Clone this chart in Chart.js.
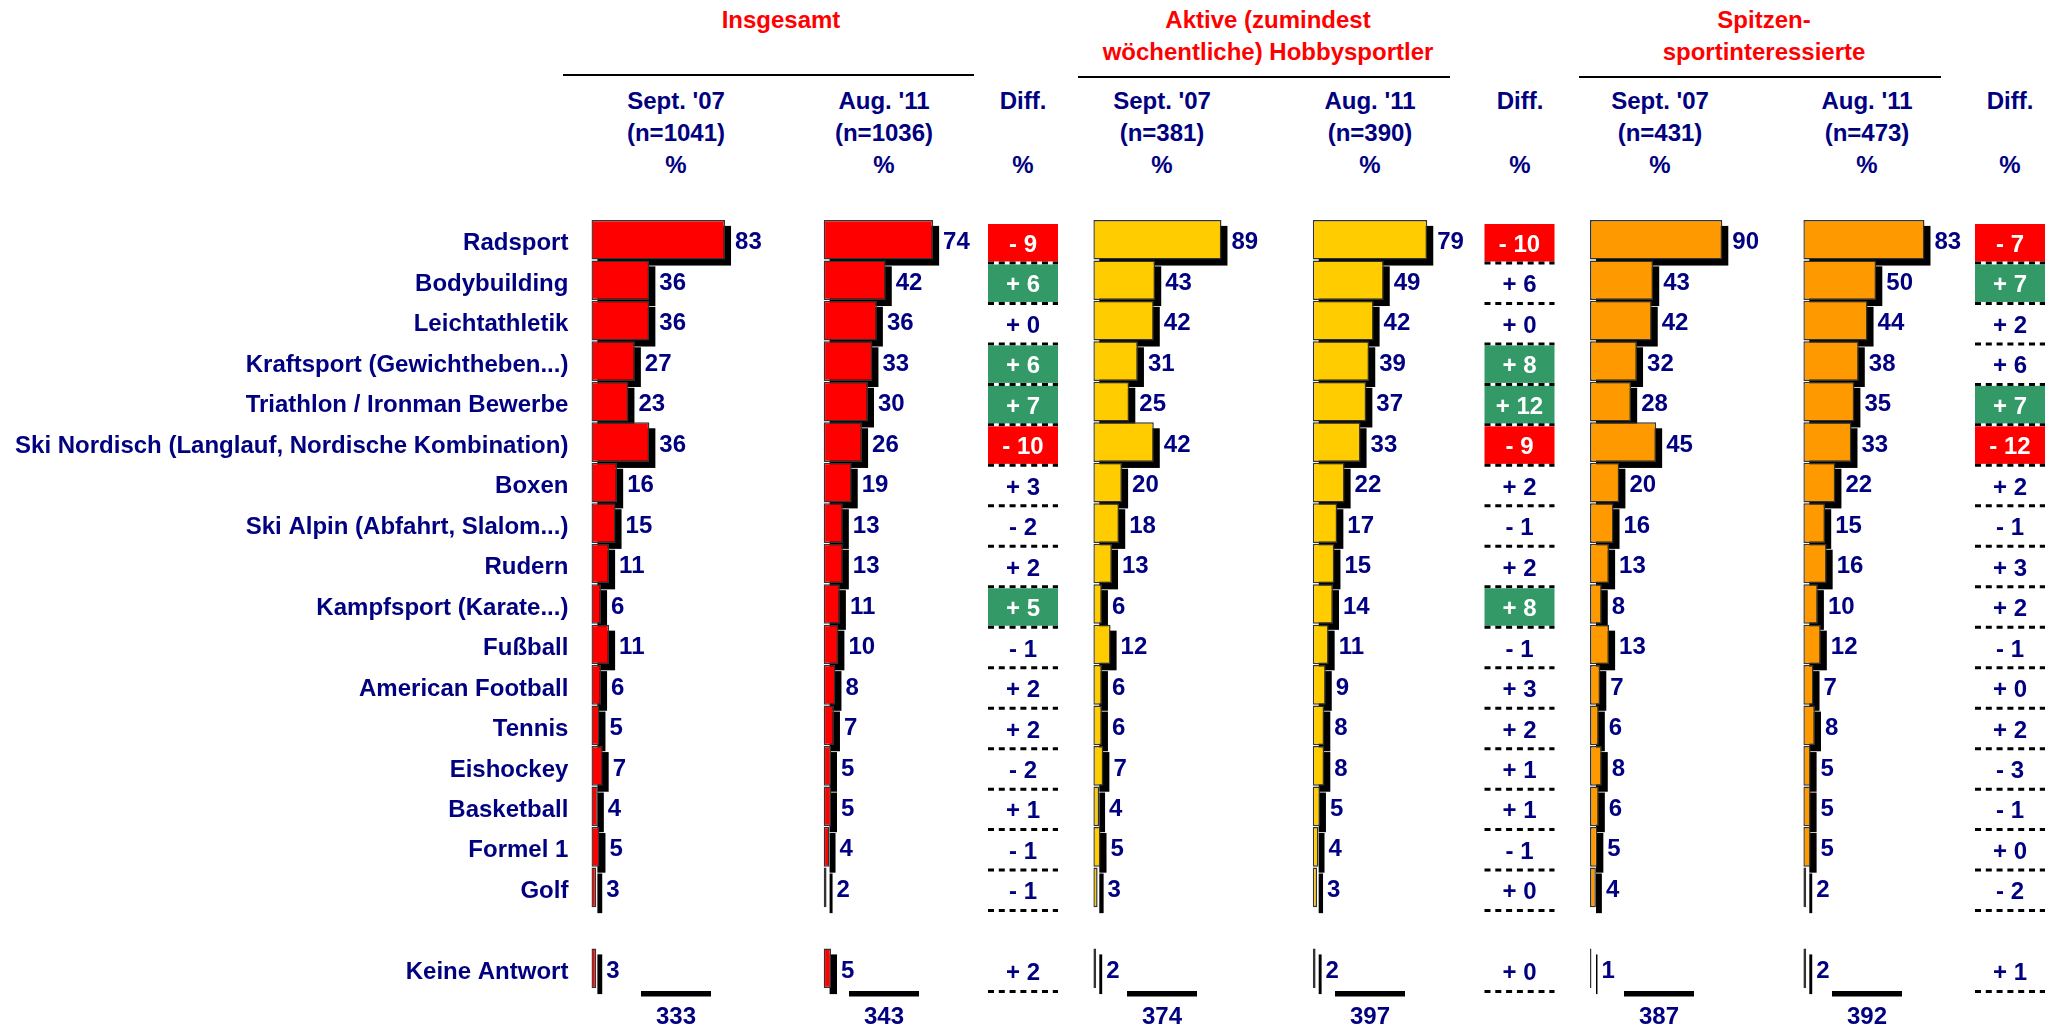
<!DOCTYPE html>
<html>
<head>
<meta charset="utf-8">
<script src="https://cdn.jsdelivr.net/npm/chart.js@4.4.1/dist/chart.umd.min.js"></script>
<style>
body { margin:0; background:#fff; width:2060px; height:1029px; overflow:hidden; position:relative;
       font-family:"Liberation Sans", Arial, sans-serif; font-weight:bold; }
.layer { position:absolute; left:0; top:0; width:2060px; height:1029px; }
.txt { position:absolute; transform:translate(-50%,-50%); white-space:nowrap; font-size:24px;
       line-height:32px; text-align:center; color:#000080; }
.red { color:#ff0000; }
.rule { position:absolute; height:2.3px; background:#000; }
</style>
</head>
<body>
<script>
// categories (slot 17 is the empty gap before "Keine Antwort")
const sports = ['Radsport', 'Bodybuilding', 'Leichtathletik', 'Kraftsport (Gewichtheben...)',
  'Triathlon / Ironman Bewerbe', 'Ski Nordisch (Langlauf, Nordische Kombination)', 'Boxen',
  'Ski Alpin (Abfahrt, Slalom...)', 'Rudern', 'Kampfsport (Karate...)', 'Fußball',
  'American Football', 'Tennis', 'Eishockey', 'Basketball', 'Formel 1', 'Golf', '', 'Keine Antwort'];

const insgSept07 = [83, 36, 36, 27, 23, 36, 16, 15, 11, 6, 11, 6, 5, 7, 4, 5, 3, null, 3];
const insgAug11  = [74, 42, 36, 33, 30, 26, 19, 13, 13, 11, 10, 8, 7, 5, 5, 4, 2, null, 5];
const insgDiff   = [-9, 6, 0, 6, 7, -10, 3, -2, 2, 5, -1, 2, 2, -2, 1, -1, -1, null, 2];

const aktivSept07 = [89, 43, 42, 31, 25, 42, 20, 18, 13, 6, 12, 6, 6, 7, 4, 5, 3, null, 2];
const aktivAug11  = [79, 49, 42, 39, 37, 33, 22, 17, 15, 14, 11, 9, 8, 8, 5, 4, 3, null, 2];
const aktivDiff   = [-10, 6, 0, 8, 12, -9, 2, -1, 2, 8, -1, 3, 2, 1, 1, -1, 0, null, 0];

const spitzeSept07 = [90, 43, 42, 32, 28, 45, 20, 16, 13, 8, 13, 7, 6, 8, 6, 5, 4, null, 1];
const spitzeAug11  = [83, 50, 44, 38, 35, 33, 22, 15, 16, 10, 12, 7, 8, 5, 5, 5, 2, null, 2];
const spitzeDiff   = [-7, 7, 2, 6, 7, -12, 2, -1, 3, 2, -1, 0, 2, -3, -1, 0, -2, null, 1];

// marked as significant from this absolute difference on
const sigLimit = [5, 7, 7];

const groupTitles = [['Insgesamt'], ['Aktive (zumindest', 'wöchentliche) Hobbysportler'], ['Spitzen-', 'sportinteressierte']];
const colHeads = [
  ["Sept. '07", '(n=1041)', '%'], ["Aug. '11", '(n=1036)', '%'], ['Diff.', '', '%'],
  ["Sept. '07", '(n=381)', '%'], ["Aug. '11", '(n=390)', '%'], ['Diff.', '', '%'],
  ["Sept. '07", '(n=431)', '%'], ["Aug. '11", '(n=473)', '%'], ['Diff.', '', '%']
];

const NAVY = '#000080';
const RED = '#ff0000';
const GREEN = '#339966';
const FONT = '"Liberation Sans", Arial, sans-serif';
Chart.defaults.font.family = FONT;

// header text
function addText(txt, x, y, cls) {
  const d = document.createElement('div');
  d.className = 'txt' + (cls ? ' ' + cls : '');
  d.innerHTML = txt;
  d.style.left = x + 'px';
  d.style.top = y + 'px';
  document.body.appendChild(d);
}
function addRule(x1, x2, y) {
  const d = document.createElement('div');
  d.className = 'rule';
  d.style.left = x1 + 'px';
  d.style.width = (x2 - x1) + 'px';
  d.style.top = y + 'px';
  document.body.appendChild(d);
}

const titleX = [781, 1268, 1764];
groupTitles.forEach((t, g) => {
  t.forEach((line, k) => addText(line, titleX[g], 20 + k * 31.5, 'red'));
});
addRule(563, 974, 74);
addRule(1078, 1450, 75.5);
addRule(1579, 1941, 75.5);

const colX = [676, 884, 1023, 1162, 1370, 1520, 1660, 1867, 2010];
colHeads.forEach((h, i) => {
  h.forEach((line, k) => { if (line) addText(line, colX[i], 101 + k * 32); });
});

// bar panels
const panels = [
  { data: insgSept07, color: '#ff0000', left: 591.4, px: 1.61, center: 676, axis: true },
  { data: insgAug11, color: '#ff0000', left: 823.6, px: 1.48, center: 884, diff: insgDiff, diffX: 988, sig: sigLimit[0] },
  { data: aktivSept07, color: '#ffcc00', left: 1093.3, px: 1.44, center: 1162 },
  { data: aktivAug11, color: '#ffcc00', left: 1312.7, px: 1.45, center: 1370, diff: aktivDiff, diffX: 1484.5, sig: sigLimit[1] },
  { data: spitzeSept07, color: '#ff9900', left: 1590, px: 1.47, center: 1659 },
  { data: spitzeAug11, color: '#ff9900', left: 1803.3, px: 1.46, center: 1867, diff: spitzeDiff, diffX: 1975, sig: sigLimit[2] }
];

const shadowPlugin = {
  id: 'shadow',
  beforeDatasetsDraw(chart) {
    const ctx = chart.ctx;
    const vals = chart.data.datasets[0].data;
    ctx.save();
    ctx.fillStyle = '#000';
    chart.getDatasetMeta(0).data.forEach((bar, i) => {
      if (vals[i] == null) return;
      const { x, y, base, height } = bar.getProps(['x', 'y', 'base', 'height'], true);
      ctx.fillRect(base + 6, y - height / 2 + 6, x - base, height);
    });
    ctx.restore();
  }
};

const valuePlugin = {
  id: 'values',
  afterDatasetsDraw(chart) {
    const ctx = chart.ctx;
    const vals = chart.data.datasets[0].data;
    ctx.save();
    ctx.fillStyle = NAVY;
    ctx.font = 'bold 24px ' + FONT;
    ctx.textBaseline = 'middle';
    ctx.textAlign = 'left';
    chart.getDatasetMeta(0).data.forEach((bar, i) => {
      if (vals[i] == null) return;
      const { x, y } = bar.getProps(['x', 'y'], true);
      ctx.fillText(vals[i], x + 10, y + 3);
    });
    ctx.restore();
  }
};

function extrasPlugin(p) {
  return {
    id: 'extras',
    afterDatasetsDraw(chart) {
      const ctx = chart.ctx;
      const ys = chart.scales.y;
      const half = (ys.getPixelForValue(1) - ys.getPixelForValue(0)) / 2;
      ctx.save();
      ctx.font = 'bold 24px ' + FONT;
      ctx.textBaseline = 'middle';
      ctx.textAlign = 'center';

      // total line and sum under the column
      const last = ys.getPixelForValue(sports.length - 1) + half;
      const total = p.data.reduce((a, b) => a + (b || 0), 0);
      ctx.fillStyle = '#000';
      ctx.fillRect(p.center - 35, last + 2.5, 70, 5.5);
      ctx.fillStyle = NAVY;
      ctx.fillText(total, p.center, last + 28.5);

      if (p.diff) {
        p.diff.forEach((d, i) => {
          if (d == null) return;
          const cy = ys.getPixelForValue(i);
          const top = cy - half, bottom = cy + half;
          const sig = Math.abs(d) >= p.sig;
          if (sig) {
            ctx.fillStyle = d < 0 ? RED : GREEN;
            ctx.fillRect(p.diffX, top + 4.5, 70, half * 2 - 3);
          }
          ctx.strokeStyle = '#000';
          ctx.lineWidth = 3;
          ctx.setLineDash([6, 4.8]);
          ctx.beginPath();
          ctx.moveTo(p.diffX, bottom + 3);
          ctx.lineTo(p.diffX + 70, bottom + 3);
          ctx.stroke();
          ctx.fillStyle = sig ? '#fff' : NAVY;
          ctx.fillText((d < 0 ? '- ' : '+ ') + Math.abs(d), p.diffX + 35, cy + 5.5);
        });
      }
      ctx.restore();
    }
  };
}

panels.forEach(p => {
  const wrap = document.createElement('div');
  wrap.className = 'layer';
  const cv = document.createElement('canvas');
  wrap.appendChild(cv);
  document.body.appendChild(wrap);

  new Chart(cv, {
    type: 'bar',
    data: {
      labels: sports,
      datasets: [{
        data: p.data,
        backgroundColor: p.color,
        borderColor: '#333333',
        borderWidth: 1.5,
        borderSkipped: false,
        barPercentage: 0.98,
        categoryPercentage: 1
      }]
    },
    options: {
      indexAxis: 'y',
      responsive: true,
      maintainAspectRatio: false,
      animation: false,
      events: [],
      layout: {
        padding: { left: p.axis ? 0 : p.left, right: 2060 - p.left - 100 * p.px, top: 219.5, bottom: 1029 - 988.5 }
      },
      plugins: { legend: { display: false }, tooltip: { enabled: false } },
      scales: {
        x: { display: false, min: 0, max: 100 },
        y: {
          display: !!p.axis,
          grid: { display: false, drawTicks: false },
          border: { display: false },
          ticks: { color: NAVY, font: { size: 24, weight: 'bold' }, padding: 23, autoSkip: false, labelOffset: 4 },
          afterFit: p.axis ? (s => { s.width = p.left; }) : undefined
        }
      }
    },
    plugins: [shadowPlugin, valuePlugin, extrasPlugin(p)]
  });
});
</script>
</body>
</html>
